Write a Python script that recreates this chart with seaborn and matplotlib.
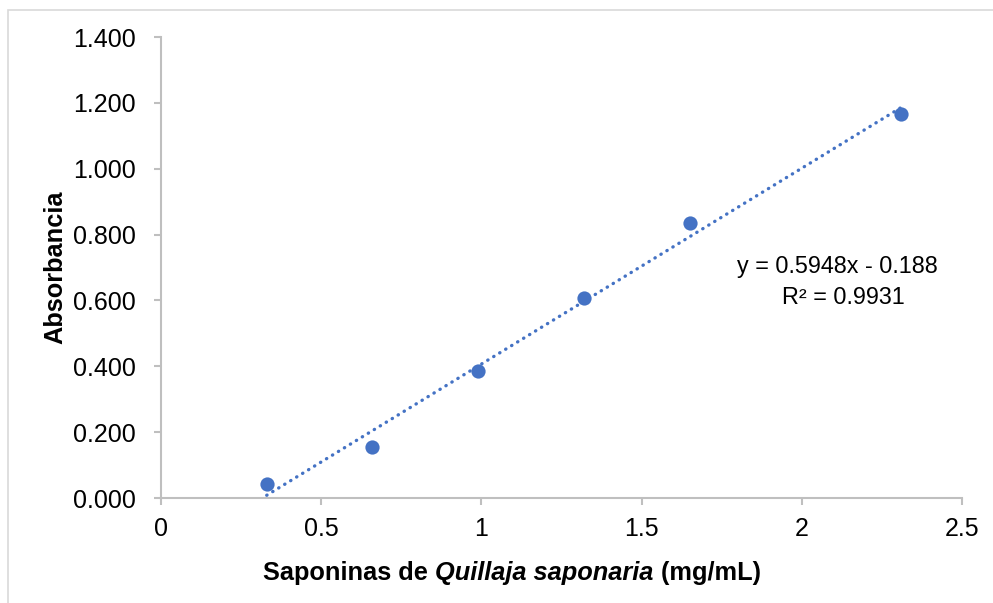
import matplotlib
matplotlib.use("Agg")
import matplotlib.pyplot as plt
import seaborn as sns
import numpy as np
import pandas as pd
from matplotlib.patches import Rectangle

# Data
concentracion = [0.33, 0.66, 0.99, 1.32, 1.65, 2.31]
absorbancia = [0.043, 0.155, 0.385, 0.607, 0.835, 1.165]
pendiente = 0.5948
intercepto = -0.188
r2 = 0.9931
y_ticks = [0.0, 0.2, 0.4, 0.6, 0.8, 1.0, 1.2, 1.4]
x_ticks = [0, 0.5, 1, 1.5, 2, 2.5]

sns.set_theme(style="white")
plt.rcParams['font.family'] = ['Liberation Sans', 'DejaVu Sans']

blue = "#4472C4"
gray = "#BFBFBF"
fs = 18
fs_lab = 18.3
fs_eq = 16.8

fig = plt.figure(figsize=(9.93, 6.03), dpi=100)
ax = fig.add_axes([161/993, 1-498/603, (962-161)/993, (498-37)/603])

# outer chart border
fig.patches.append(Rectangle((8/993, -0.05), 1.2, (1-10/603)+0.05, transform=fig.transFigure,
                             fill=False, edgecolor="#D9D9D9", linewidth=1.2, zorder=0))

df = pd.DataFrame({"x": concentracion, "y": absorbancia})
xs = np.array([min(concentracion), max(concentracion)])
tl = pd.DataFrame({"x": xs, "y": pendiente * xs + intercepto})
sns.lineplot(data=tl, x="x", y="y", ax=ax, color=blue, linewidth=2.4,
             linestyle=(0, (0.1, 2.0)), zorder=2)
ax.lines[-1].set_dash_capstyle("round")
sns.scatterplot(data=df, x="x", y="y", ax=ax, color=blue, s=105, edgecolor=blue,
                linewidth=0, zorder=3)

ax.set_xlim(0, 2.5)
ax.set_ylim(0, 1.4)
ax.set_xticks(x_ticks)
ax.set_xticklabels([f"{v:g}" for v in x_ticks])
ax.set_yticks(y_ticks)
ax.set_yticklabels([f"{v:.3f}" for v in y_ticks])

for s in ["top", "right"]:
    ax.spines[s].set_visible(False)
for s in ["left", "bottom"]:
    ax.spines[s].set_color(gray)
    ax.spines[s].set_linewidth(1.5)
ax.tick_params(axis="both", which="major", direction="out", length=5, width=1.5,
               color=gray, labelsize=fs, labelcolor="black")
ax.tick_params(axis="y", pad=13)
ax.tick_params(axis="x", pad=9)
ax.tick_params(bottom=True, left=True)

ax.set_xlabel("")
ax.set_ylabel("")
fig.text(55/993, 1-267/603, "Absorbancia", rotation=90, ha="center", va="center",
         fontsize=fs_lab, fontweight="bold", color="black")

# x label with italic species name
parts = [("Saponinas de ", "normal"), ("Quillaja saponaria", "italic"), (" (mg/mL)", "normal")]
fig.canvas.draw()
r = fig.canvas.get_renderer()
texts = []
for txt, style in parts:
    t = fig.text(0, 1-573/603, txt, ha="left", va="center", fontsize=fs_lab, fontweight="bold",
                 fontstyle=style, color="black")
    texts.append(t)
widths = [t.get_window_extent(renderer=r).width for t in texts]
total = sum(widths)
cur = 512 - total / 2
for t, w in zip(texts, widths):
    t.set_x(cur / 993)
    cur += w

ax.text(837/993, 1-267/603, f"y = {pendiente}x - {abs(intercepto)}", transform=fig.transFigure,
        ha="center", va="center", fontsize=fs_eq, color="black")
ax.text(843/993, 1-297/603, f"R² = {r2}", transform=fig.transFigure,
        ha="center", va="center", fontsize=fs_eq, color="black")

fig.savefig("out.png", dpi=100, facecolor="white")
